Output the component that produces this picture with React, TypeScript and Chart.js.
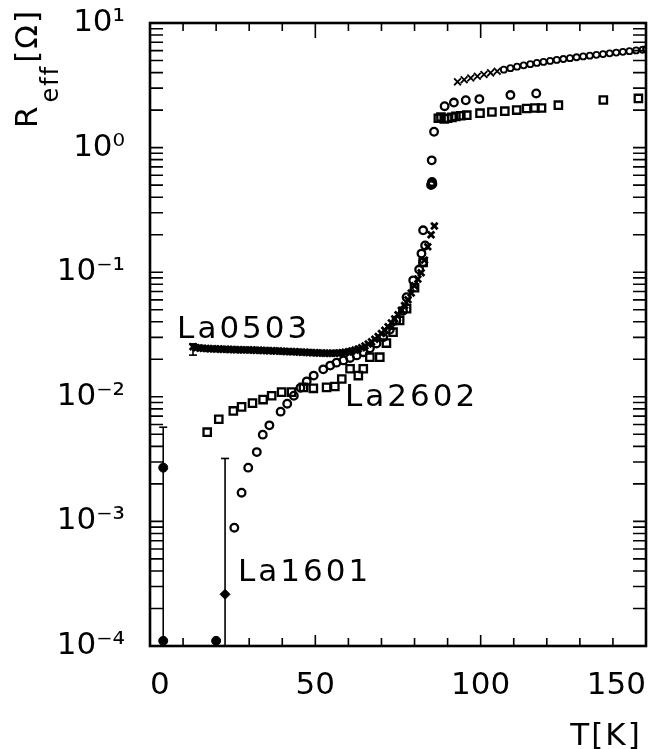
import React, { useEffect, useRef } from 'react';
import { Chart, registerables } from 'chart.js';
Chart.register(...registerables);

// ---- axes ----
const xMin = 0;
const xMax = 150;
const yMin = 1e-4;
const yMax = 10;
const xTickValues = [0, 50, 100, 150];
const xTickLabels = ['0', '50', '100', '150'];
const xMinorStep = 10;
const yTickValues = [1e-4, 1e-3, 1e-2, 1e-1, 1, 10];
const yTickLabels = ['10\u207B\u2074', '10\u207B\u00B3', '10\u207B\u00B2', '10\u207B\u00B9', '10\u2070', '10\u00B9'];
const xTitle = 'T[K]';
const yTitleMain = 'R';
const yTitleSub = 'eff';
const yTitleUnit = '[\u03A9]';

// ---- La0503 (dense band + transition) ----
const la0503T = [13, 14, 15, 16, 17, 18, 19, 20, 21, 22, 23, 24, 25, 26, 27, 28, 29, 30, 31, 32, 33, 34, 35, 36, 37, 38, 39, 40, 41, 42, 43, 44, 45, 46, 47, 48, 49, 50, 51, 52, 53, 54, 55, 56, 57, 58, 59, 60, 61, 62, 63, 64, 65, 66, 67, 68, 69, 70, 71, 72, 73, 74, 75, 76, 77, 78, 79, 80, 81, 82, 83, 84, 85, 86];
const la0503R = [0.0252, 0.0248, 0.0246, 0.0245, 0.0244, 0.0243, 0.0243, 0.0242, 0.0242, 0.0241, 0.0241, 0.024, 0.024, 0.0239, 0.0239, 0.0238, 0.0238, 0.0237, 0.0237, 0.0236, 0.0236, 0.0235, 0.0235, 0.0234, 0.0234, 0.0233, 0.0233, 0.0232, 0.0231, 0.0231, 0.023, 0.023, 0.0229, 0.0228, 0.0228, 0.0227, 0.0226, 0.0226, 0.0225, 0.0225, 0.0224, 0.0224, 0.0224, 0.0224, 0.0225, 0.0226, 0.0228, 0.023, 0.0233, 0.0237, 0.0242, 0.0248, 0.0256, 0.0265, 0.0276, 0.029, 0.0305, 0.0322, 0.0342, 0.0365, 0.0392, 0.0422, 0.0456, 0.0495, 0.054, 0.06, 0.068, 0.078, 0.088, 0.099, 0.125, 0.16, 0.2, 0.235];
// La0503 above the transition
const la0503UpT = [93, 95, 97, 99, 101, 103, 105, 107, 109, 111, 113, 115, 117, 119, 121, 123, 125, 127, 129, 131, 133, 135, 137, 139, 141, 143, 145, 147, 149, 150];
const la0503UpR = [3.37, 3.5, 3.62, 3.74, 3.86, 3.98, 4.1, 4.22, 4.34, 4.46, 4.57, 4.67, 4.78, 4.87, 4.96, 5.05, 5.14, 5.22, 5.31, 5.39, 5.47, 5.55, 5.63, 5.71, 5.79, 5.87, 5.94, 6.02, 6.1, 6.18];

// ---- La1601 (open circles) ----
const la1601T = [25.5, 27.7, 29.7, 32.3, 34.1, 36.1, 39.5, 41.5, 43.5, 45.5, 47.4, 49.5, 52.4, 54.5, 56.4, 58.5, 60.5, 62.5, 64.5, 66.5, 68.5, 70.5, 72.5, 74.5, 76.5, 77.6, 79.6, 81.4, 82.1, 82.6, 83.2, 82.6, 85.0, 85.2, 85.4, 85.3, 85.2, 85.9, 89.1, 91.9, 95.5, 99.6, 109, 116.8];
const la1601R = [8.9e-4, 1.7e-3, 2.7e-3, 3.6e-3, 4.97e-3, 5.9e-3, 7.6e-3, 8.8e-3, 0.0102, 0.0118, 0.0133, 0.0148, 0.0166, 0.0178, 0.0188, 0.0196, 0.0205, 0.0215, 0.0228, 0.0245, 0.0268, 0.03, 0.0345, 0.041, 0.049, 0.063, 0.086, 0.105, 0.141, 0.12, 0.164, 0.217, 0.5, 0.52, 0.51, 0.53, 0.79, 1.34, 2.15, 2.3, 2.4, 2.45, 2.64, 2.72];
// La1601 filled points and error bars at low T
const la1601DotT = [4, 4, 20];
const la1601DotR = [2.7e-3, 1.1e-4, 1.1e-4];
const la1601DiamondT = [22.7];
const la1601DiamondR = [2.6e-4];
const errT = [4, 22.7, 13];
const errLow = [1e-4, 1e-4, 0.0216];
const errHigh = [5.7e-3, 3.2e-3, 0.0266];

// ---- La2602 (open squares) ----
const la2602T = [17.3, 20.8, 25.2, 27.7, 31, 34.2, 36.8, 39.8, 42.8, 46.4, 49.4, 53.4, 55.9, 58, 60.5, 63, 64.5, 66.5, 69.5, 71.5, 73.5, 75.5, 77.6, 80, 82.6, 87.2, 88, 89, 90, 91.3, 92.5, 94, 95.8, 99.8, 103.4, 107.3, 110.9, 113.9, 116.4, 118.4, 123.5, 137.1, 147.7];
const la2602R = [5.2e-3, 6.6e-3, 7.7e-3, 8.3e-3, 8.9e-3, 9.5e-3, 0.0102, 0.0109, 0.0109, 0.0119, 0.0117, 0.0119, 0.0121, 0.0139, 0.0168, 0.0148, 0.0168, 0.0208, 0.0208, 0.027, 0.033, 0.041, 0.051, 0.075, 0.12, 1.72, 1.76, 1.7, 1.72, 1.75, 1.78, 1.8, 1.82, 1.89, 1.93, 1.96, 2.0, 2.06, 2.08, 2.08, 2.19, 2.41, 2.48];

// ---- series labels (anchored in data units) ----
const seriesNames = ['La0503', 'La2602', 'La1601'];
const seriesNameT = [8.2, 59, 26.6];
const seriesNameR = [0.0299, 0.0085, 3.33e-4];

const FONT = '"DejaVu Sans", sans-serif';

const pts = (xs: number[], ys: number[]) => xs.map((x, i) => ({ x, y: ys[i] }));

const framePlugin = {
  id: 'frameTicks',
  afterDatasetsDraw(chart: any) {
    const { ctx, chartArea, scales } = chart;
    const { left, right, top, bottom } = chartArea;
    const xs = scales.x;
    const ys = scales.y;
    ctx.save();
    ctx.strokeStyle = '#000';
    ctx.lineWidth = 1.6;
    ctx.beginPath();
    for (let t = xMin; t <= xMax; t += xMinorStep) {
      const px = xs.getPixelForValue(t);
      const major = t % 50 === 0;
      ctx.moveTo(px, bottom);
      ctx.lineTo(px, bottom - (major ? 11 : 8));
      ctx.moveTo(px, top);
      ctx.lineTo(px, top + (major ? 15 : 8));
    }
    for (let d = -4; d <= 0; d++) {
      for (let m = 1; m <= 9; m++) {
        const v = m * Math.pow(10, d);
        const py = ys.getPixelForValue(v);
        ctx.moveTo(left, py);
        ctx.lineTo(left + 13, py);
        ctx.moveTo(right, py);
        ctx.lineTo(right - 13, py);
      }
    }
    ctx.stroke();
    ctx.lineWidth = 2.6;
    ctx.strokeRect(left, top, right - left, bottom - top);
    ctx.restore();
  },
  afterDraw(chart: any) {
    const { ctx, scales } = chart;
    const xs = scales.x;
    const ys = scales.y;
    ctx.save();
    ctx.fillStyle = '#000';
    ctx.textBaseline = 'alphabetic';
    ctx.textAlign = 'left';
    ctx.font = '31px ' + FONT;
    try { (ctx as any).letterSpacing = '3px'; } catch (e) {}
    seriesNames.forEach((name, i) => {
      ctx.fillText(name, xs.getPixelForValue(seriesNameT[i]), ys.getPixelForValue(seriesNameR[i]));
    });
    try { (ctx as any).letterSpacing = '2px'; } catch (e) {}
    // x title
    ctx.textAlign = 'center';
    ctx.fillText(xTitle, 606, 745);
    // y title (rotated)
    ctx.translate(37, 128);
    ctx.rotate(-Math.PI / 2);
    ctx.textAlign = 'left';
    ctx.font = '31px ' + FONT;
    ctx.fillText(yTitleMain, 0, 0);
    let w = ctx.measureText(yTitleMain).width + 2;
    ctx.font = '24px ' + FONT;
    ctx.fillText(yTitleSub, w, 21);
    w += ctx.measureText(yTitleSub).width + 2;
    ctx.font = '31px ' + FONT;
    ctx.fillText(yTitleUnit, w, 0);
    ctx.restore();
  },
};

export default function App() {
  const ref = useRef<HTMLCanvasElement>(null);
  useEffect(() => {
    if (!ref.current) return;
    const black = '#000';
    const open = 'rgba(0,0,0,0)';
    const errDatasets = errT.map((t, i) => ({
      label: 'err' + i,
      data: [{ x: t, y: errLow[i] }, { x: t, y: errHigh[i] }],
      showLine: true,
      borderColor: black,
      borderWidth: 1.6,
      pointStyle: 'line',
      pointRadius: (c: any) => (c.dataIndex === 0 && errLow[i] <= yMin ? 0 : 4),
      pointBorderWidth: 1.6,
      pointBorderColor: black,
      clip: false as any,
    }));
    const chart = new Chart(ref.current, {
      type: 'scatter',
      data: {
        datasets: [
          {
            label: 'La0503',
            data: pts(la0503T, la0503R),
            pointStyle: 'crossRot',
            pointRadius: 4.6,
            pointBorderWidth: 2.8,
            borderColor: black,
            backgroundColor: open,
          },
          {
            label: 'La0503 upper',
            data: pts(la0503UpT, la0503UpR),
            pointStyle: (c: any) => (c.raw && c.raw.x < 106 ? 'crossRot' : 'circle'),
            pointRadius: (c: any) => (c.raw && c.raw.x < 106 ? 4.8 : 3),
            pointBorderWidth: 1.8,
            borderColor: black,
            backgroundColor: open,
          },
          {
            label: 'La1601',
            data: pts(la1601T, la1601R),
            pointStyle: 'circle',
            pointRadius: 3.8,
            pointBorderWidth: 2.3,
            borderColor: black,
            backgroundColor: open,
          },
          {
            label: 'La2602',
            data: pts(la2602T, la2602R),
            pointStyle: 'rect',
            pointRadius: 5.2,
            pointBorderWidth: 2.3,
            borderColor: black,
            backgroundColor: open,
          },
          ...errDatasets,
          {
            label: 'La1601 dots',
            data: pts(la1601DotT, la1601DotR),
            pointStyle: 'circle',
            pointRadius: 4.5,
            borderColor: black,
            backgroundColor: black,
            clip: false as any,
          },
          {
            label: 'La1601 diamond',
            data: pts(la1601DiamondT, la1601DiamondR),
            pointStyle: 'rectRot',
            pointRadius: 5,
            borderColor: black,
            backgroundColor: black,
          },
        ] as any,
      },
      options: {
        animation: false,
        responsive: true,
        maintainAspectRatio: false,
        events: [],
        layout: { padding: { top: 23, right: 13, bottom: 0, left: 0 } },
        plugins: { legend: { display: false }, tooltip: { enabled: false } },
        scales: {
          x: {
            type: 'linear',
            min: xMin,
            max: xMax,
            grid: { display: false },
            border: { display: false },
            afterBuildTicks: (s: any) => {
              s.ticks = xTickValues.map((v) => ({ value: v }));
            },
            afterFit: (s: any) => {
              s.height = 103;
              s.paddingLeft = 0;
              s.paddingRight = 0;
            },
            ticks: {
              autoSkip: false,
              maxRotation: 0,
              align: 'inner',
              padding: 13,
              color: black,
              font: { family: FONT, size: 31 },
              callback: (v: any) => {
                const i = xTickValues.indexOf(Number(v));
                return i >= 0 ? xTickLabels[i] : '';
              },
            },
          },
          y: {
            type: 'logarithmic',
            min: yMin,
            max: yMax,
            grid: { display: false },
            border: { display: false },
            afterBuildTicks: (s: any) => {
              s.ticks = yTickValues.map((v) => ({ value: v }));
            },
            afterFit: (s: any) => {
              s.width = 150;
              s.paddingTop = 0;
              s.paddingBottom = 0;
            },
            ticks: {
              autoSkip: false,
              padding: 17,
              color: black,
              font: { family: FONT, size: 31 },
              callback: (v: any) => {
                const n = Number(v);
                const i = yTickValues.findIndex((t) => Math.abs(Math.log10(t) - Math.log10(n)) < 1e-6);
                return i >= 0 ? yTickLabels[i] : '';
              },
            },
          },
        } as any,
      },
      plugins: [framePlugin],
    });
    return () => chart.destroy();
  }, []);
  return (
    <div style={{ position: 'fixed', left: 0, top: 0, width: 659, height: 749, background: '#fff' }}>
      <canvas ref={ref} />
    </div>
  );
}
